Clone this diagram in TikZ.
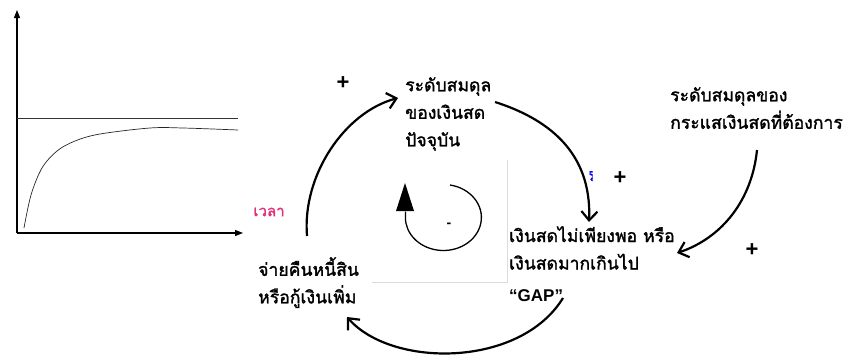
\documentclass[tikz,border=0pt]{standalone}
\usepackage{fontspec}
\setmainfont{Liberation Sans}
\newfontfamily\thaifont[Script=Thai,FakeBold=1.6]{Loma}
\usetikzlibrary{arrows.meta}
\definecolor{timepink}{HTML}{E0307A}
\definecolor{framegray}{HTML}{DCDCDC}
\begin{document}
\begin{tikzpicture}[x=1pt,y=-1pt,
  thai/.style={font=\thaifont\fontsize{17.6}{27.5}\selectfont, align=left, inner sep=0pt, anchor=north west},
  plus/.style={font=\bfseries\fontsize{22}{22}\selectfont, inner sep=0pt},
  link/.style={line width=2.2pt, -{Straight Barb[length=9pt,width=16pt,line width=2.2pt]}},
  axis/.style={line width=1.2pt, -{Triangle[length=8pt,width=6pt]}}
]
\useasboundingbox (0,0) rectangle (847,356);

% small graph
\coordinate (o) at (17,233);
\coordinate (ytop) at (17,10);
\coordinate (xend) at (243,233);
\draw[axis] (o) -- (ytop);
\draw[axis] (o) -- (xend);
\coordinate (g1) at (17,118);
\coordinate (g2) at (238,118);
\draw[line width=0.7pt, black!80] (g1) -- (g2);
\draw[line width=0.7pt, black!85] plot[smooth, tension=0.55] coordinates {(24,228) (31,195) (42,168) (57,151) (75,141) (100,134) (150,128) (183,128) (238,130)};
\node[font=\thaifont\fontsize{15}{15}\selectfont, text=timepink, inner sep=0pt] (time) at (269,212) {เวลา};

% frame lines
\coordinate (fr1) at (507,160);
\coordinate (fr2) at (507,282);
\coordinate (fr3) at (372,282);
\draw[framegray, line width=0.8pt] (fr1) -- (fr2) -- (fr3);

% blue fragment
\begin{scope}
\clip (589.5,171) rectangle (592.5,182);
\node[text=blue, font=\thaifont\fontsize{18}{18}\selectfont, inner sep=0pt, anchor=west] (frag) at (586,176) {ร};
\end{scope}

% text nodes
\node[thai] (cur) at (405,77) {ระดับสมดุล\\ของเงินสด\\ปัจจุบัน};
\node[thai] (want) at (670,87) {ระดับสมดุลของ\\กระแสเงินสดที่ต้องการ};
\node[thai] (gap) at (509,226) {เงินสดไม่เพียงพอ หรือ\\เงินสดมากเกินไป\\[4pt]{\rmfamily\bfseries\fontsize{17}{17}\selectfont “GAP”}};
\node[thai] (pay) at (258,257) {จ่ายคืนหนี้สิน\\หรือกู้เงินเพิ่ม};

% plus signs
\node[plus] (p1) at (343,83) {+};
\node[plus] (p2) at (620,178) {+};
\node[plus] (p3) at (752,250) {+};

% connectors
\coordinate (a1) at (307,236);
\coordinate (a2) at (398,98);
\draw[link] (a1) .. controls (302,175) and (345,112) .. (a2);
\coordinate (b1) at (495,102);
\coordinate (b2) at (589,222);
\draw[link] (b1) .. controls (545,118) and (592,150) .. (b2);
\coordinate (c1) at (757,150);
\coordinate (c2) at (677,253);
\draw[link] (c1) .. controls (752,200) and (722,238) .. (c2);
\coordinate (d1) at (563,298);
\coordinate (d2) at (347,317);
\draw[link] (d1) .. controls (520,368) and (392,368) .. (d2);

% loop symbol
\coordinate (lc) at (444,218);
\draw[line width=1.3pt] (450,185) arc[start angle=80, end angle=-180, x radius=38pt, y radius=33pt] -- ++(0,-6);
\fill (396,211) -- (405,183) -- (414,211) -- cycle;
\node[font=\fontsize{14}{14}\selectfont\bfseries, inner sep=0pt] (minus) at (449,225) {-};
\end{tikzpicture}
\end{document}
